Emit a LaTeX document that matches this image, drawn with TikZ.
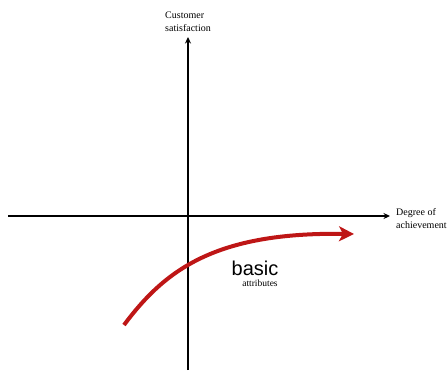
\documentclass[tikz,border=0pt]{standalone}
\usepackage{fontspec}
\setmainfont{Liberation Serif}
\newfontfamily\basicfont{Liberation Sans}
\usetikzlibrary{arrows.meta}
\definecolor{curvered}{RGB}{190,22,22}
\begin{document}
\begin{tikzpicture}[x=1pt,y=-1pt,
  axis/.style={line width=1.4pt,-{Stealth[length=6.5pt,width=6pt]}},
  curvearrow/.style={line width=4pt,curvered,-{Stealth[length=15pt,width=15pt,inset=4pt]}},
  lbl/.style={font=\fontsize{10}{13}\selectfont,inner sep=0pt,align=left}]
\useasboundingbox (0,0) rectangle (447,370);
\coordinate (xs) at (8,216);
\coordinate (xe) at (390,216);
\coordinate (ys) at (188,370);
\coordinate (ye) at (188,37);
\draw[axis] (xs) -- (xe);
\draw[axis] (ys) -- (ye);
\node[lbl,align=left,anchor=south] (ylab) at (188,32) {Customer\\satisfaction};
\node[lbl,anchor=west] (xlab) at (396,218.5) {Degree of\\achievement};
\coordinate (cs) at (124,325);
\coordinate (ce) at (354,234);
\draw[curvearrow] (cs) .. controls (165,270) and (215,232) .. (ce);
\node[font=\basicfont\fontsize{20}{22}\selectfont,inner sep=0pt] (basic) at (255,268) {basic};
\node[font=\fontsize{9.5}{11}\selectfont,inner sep=0pt] (attr) at (260,283) {attributes};
\end{tikzpicture}
\end{document}
